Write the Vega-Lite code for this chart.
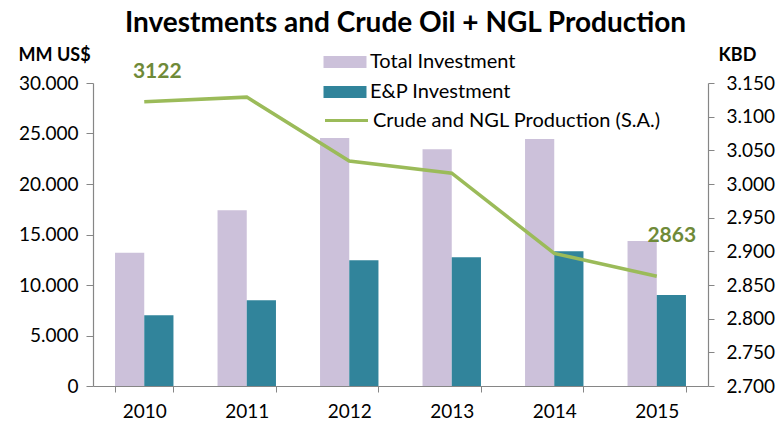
{
  "$schema": "https://vega.github.io/schema/vega-lite/v6.json",
  "width": 615,
  "height": 303,
  "autosize": "none",
  "padding": {"left": 93, "top": 83, "right": 72, "bottom": 41},
  "background": "white",
  "config": {
    "locale": {"number": {"decimal": ",", "thousands": ".", "grouping": [3], "currency": ["", ""]}},
    "view": {"stroke": null},
    "font": "Lato"
  },
  "title": {
    "text": "Investments and Crude Oil + NGL Production",
    "font": "Lato",
    "fontSize": 28,
    "fontWeight": "bold",
    "color": "#000000",
    "anchor": "middle",
    "frame": "group",
    "baseline": "alphabetic",
    "offset": -14,
    "dx": 5
  },
  "datasets": {
    "bars": [
      {"year": "2010", "series": "Total Investment", "value": 13200},
      {"year": "2010", "series": "E&P Investment", "value": 7000},
      {"year": "2011", "series": "Total Investment", "value": 17400},
      {"year": "2011", "series": "E&P Investment", "value": 8500},
      {"year": "2012", "series": "Total Investment", "value": 24550},
      {"year": "2012", "series": "E&P Investment", "value": 12450},
      {"year": "2013", "series": "Total Investment", "value": 23450},
      {"year": "2013", "series": "E&P Investment", "value": 12750},
      {"year": "2014", "series": "Total Investment", "value": 24450},
      {"year": "2014", "series": "E&P Investment", "value": 13350},
      {"year": "2015", "series": "Total Investment", "value": 14350},
      {"year": "2015", "series": "E&P Investment", "value": 9000}
    ],
    "line": [
      {"year": "2010", "kbd": 3122},
      {"year": "2011", "kbd": 3129},
      {"year": "2012", "kbd": 3034},
      {"year": "2013", "kbd": 3016},
      {"year": "2014", "kbd": 2897},
      {"year": "2015", "kbd": 2863}
    ]
  },
  "layer": [
    {
      "data": {"name": "bars"},
      "mark": {"type": "bar"},
      "encoding": {
        "x": {
          "field": "year", "type": "ordinal",
          "scale": {"paddingInner": 0.43, "paddingOuter": 0.215},
          "axis": {
            "title": null, "labelAngle": 0, "labelFontSize": 19, "labelColor": "#000000",
            "labelPadding": 10, "tickBand": "extent", "tickSize": 6,
            "domainColor": "#868686", "tickColor": "#868686", "domainWidth": 1.2
          }
        },
        "xOffset": {
          "field": "series", "type": "nominal",
          "sort": ["Total Investment", "E&P Investment"],
          "scale": {"paddingInner": 0, "paddingOuter": 0}
        },
        "y": {
          "field": "value", "type": "quantitative",
          "scale": {"domain": [0, 30000], "nice": false},
          "axis": {
            "orient": "left", "values": [0, 5000, 10000, 15000, 20000, 25000, 30000],
            "format": ",.0f", "grid": false,
            "labelFontSize": 19, "labelColor": "#000000", "labelPadding": 8, "tickSize": 7,
            "domainColor": "#868686", "tickColor": "#868686", "domainWidth": 1.2,
            "title": "MM US$", "titleAngle": 0, "titleAlign": "left", "titleBaseline": "middle",
            "titleX": -75, "titleY": -28, "titleFontSize": 18, "titleFontWeight": "bold", "titleColor": "#000000"
          }
        },
        "color": {
          "field": "series", "type": "nominal",
          "scale": {"domain": ["Total Investment", "E&P Investment"], "range": ["#CCC1DA", "#31849B"]},
          "legend": {
            "title": null, "orient": "none", "legendX": 241, "legendY": -32, "padding": 0,
            "symbolType": "M-2,-0.55L2,-0.55L2,0.55L-2,0.55Z", "symbolSize": 462,
            "symbolStrokeWidth": 0, "symbolOpacity": 1,
            "labelFontSize": 20, "labelColor": "#000000", "labelOffset": 14, "rowPadding": 9, "labelLimit": 0
          }
        }
      }
    },
    {
      "data": {"name": "line"},
      "encoding": {
        "x": {"field": "year", "type": "ordinal"},
        "y": {
          "field": "kbd", "type": "quantitative",
          "scale": {"domain": [2700, 3150], "nice": false, "zero": false},
          "axis": {
            "orient": "right", "values": [2700, 2750, 2800, 2850, 2900, 2950, 3000, 3050, 3100, 3150],
            "format": ",.0f", "grid": false,
            "labelFontSize": 19, "labelColor": "#000000", "labelPadding": 12, "tickSize": 6,
            "domainColor": "#868686", "tickColor": "#868686", "domainWidth": 1.2,
            "title": "KBD", "titleAngle": 0, "titleAlign": "left", "titleBaseline": "middle",
            "titleX": 10, "titleY": -28, "titleFontSize": 18, "titleFontWeight": "bold", "titleColor": "#000000"
          }
        }
      },
      "layer": [
        {
          "mark": {"type": "line", "strokeWidth": 3.5, "color": "#9BBB59"},
          "encoding": {
            "stroke": {
              "datum": "Crude and NGL Production (S.A.)",
              "scale": {"range": ["#9BBB59"]},
              "legend": {
                "title": null, "orient": "none", "legendX": 241, "legendY": 25, "padding": 0,
                "symbolType": "M-2,0L2,0", "symbolSize": 462, "symbolStrokeWidth": 3,
                "labelFontSize": 20, "labelColor": "#000000", "labelOffset": 14, "labelLimit": 0
              }
            }
          }
        },
        {
          "transform": [{"filter": "datum.year == '2010'"}],
          "mark": {"type": "text", "dx": 13, "dy": -30, "fontSize": 21, "fontWeight": "bold", "color": "#6F8A38"},
          "encoding": {"text": {"field": "kbd", "type": "quantitative", "format": "d"}}
        },
        {
          "transform": [{"filter": "datum.year == '2015'"}],
          "mark": {"type": "text", "dx": 15, "dy": -40, "fontSize": 21, "fontWeight": "bold", "color": "#6F8A38"},
          "encoding": {"text": {"field": "kbd", "type": "quantitative", "format": "d"}}
        }
      ]
    }
  ],
  "resolve": {"scale": {"y": "independent"}}
}
